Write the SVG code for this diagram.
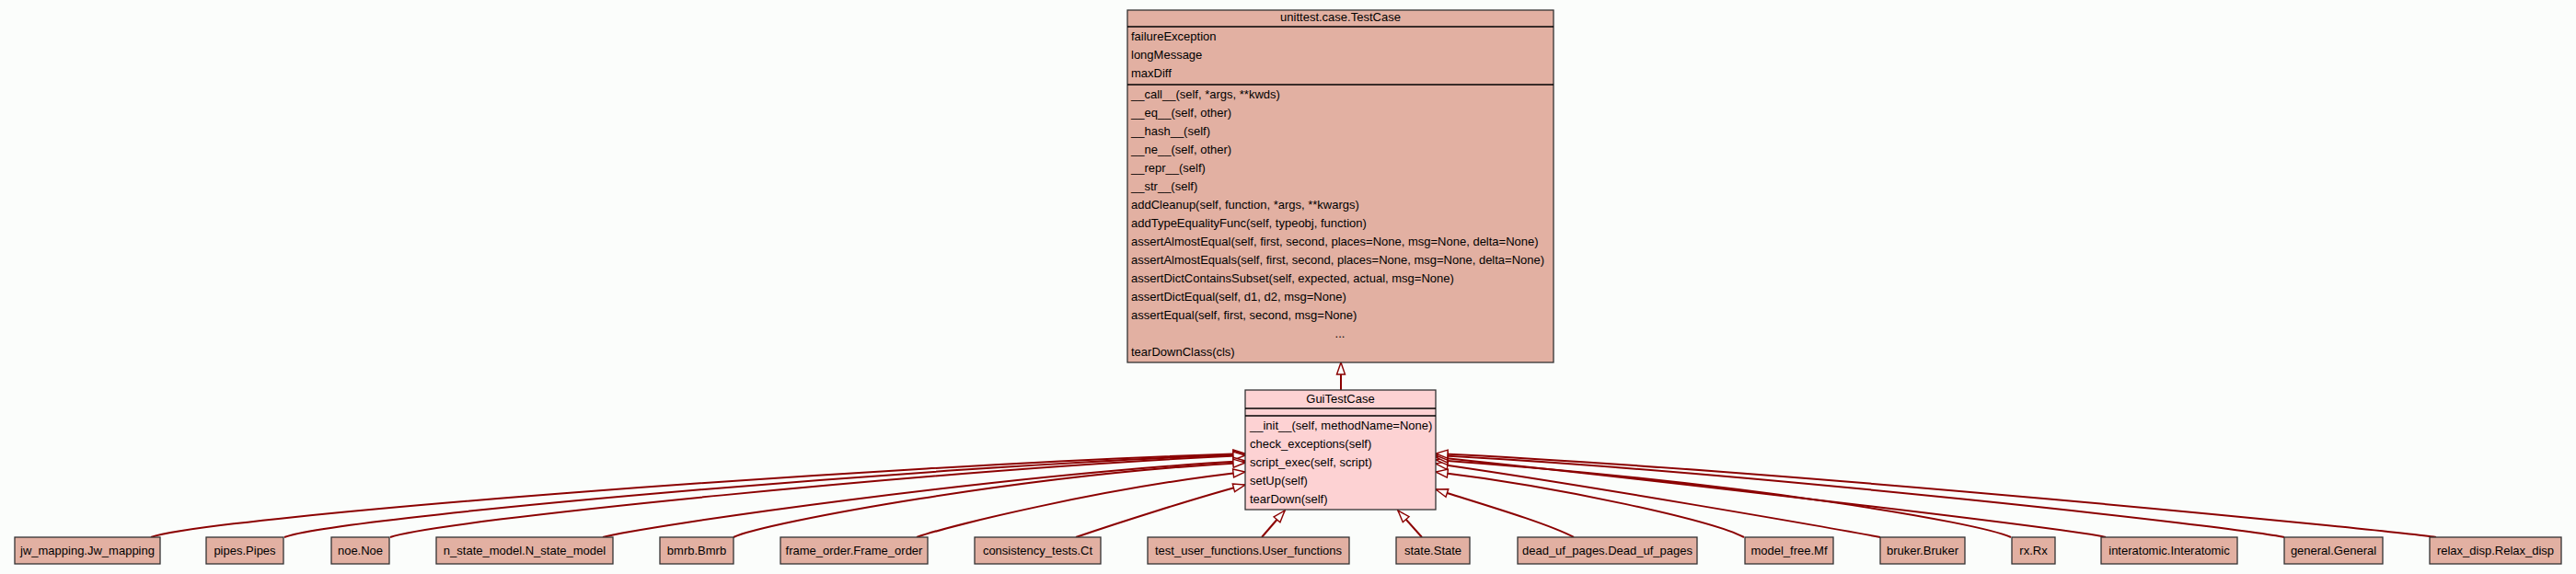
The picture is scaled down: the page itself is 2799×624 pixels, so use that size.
<svg xmlns="http://www.w3.org/2000/svg" width="2799" height="624" viewBox="0 0 2799 624">
<style>
text{font-family:"Liberation Sans",Arial,sans-serif;font-size:13px;fill:#000}
.c{text-anchor:middle}
.base{fill:#e2b0a2;stroke:#333;stroke-width:1.3}
.gui{fill:#fdd2d3;stroke:#333;stroke-width:1.3}
.sep{stroke:#000;stroke-width:1.6}
.e{fill:none;stroke:#8b0000;stroke-width:2}
</style>
<defs>
<marker id="ah" markerUnits="userSpaceOnUse" markerWidth="16" markerHeight="12" viewBox="-1 -6 16 12" refX="13" refY="0" orient="auto" overflow="visible">
<path d="M0,-4.5 L13,0 L0,4.5 Z" fill="#fbfdfb" stroke="#8b0000" stroke-width="1.4"/>
</marker>
</defs>
<rect width="2799" height="624" fill="#fbfdfb"/>
<g id="connectors">
<path class="e" marker-end="url(#ah)" d="M1457,424 L1457,394"/>
<path class="e" marker-end="url(#ah)" d="M164,584 C230,561 950,506 1353,493"/>
<path class="e" marker-end="url(#ah)" d="M309,584 C360,563 1000,507 1353,494"/>
<path class="e" marker-end="url(#ah)" d="M424,584 C470,566 1030,510 1353,495"/>
<path class="e" marker-end="url(#ah)" d="M655,584 C700,572 1080,517 1353,501"/>
<path class="e" marker-end="url(#ah)" d="M797,584 C830,568 1120,515 1353,503"/>
<path class="e" marker-end="url(#ah)" d="M996,584 C1030,572 1200,530 1353,513"/>
<path class="e" marker-end="url(#ah)" d="M1169,584 C1210,570 1300,541 1353,527"/>
<path class="e" marker-end="url(#ah)" d="M1371,584 L1396,555"/>
<path class="e" marker-end="url(#ah)" d="M1545,584 L1519,555"/>
<path class="e" marker-end="url(#ah)" d="M1710,584 C1680,568 1600,545 1560,532"/>
<path class="e" marker-end="url(#ah)" d="M1895,584 C1860,566 1700,530 1560,513"/>
<path class="e" marker-end="url(#ah)" d="M2043,584 C1990,574 1720,527 1560,504"/>
<path class="e" marker-end="url(#ah)" d="M2185,584 C2150,568 1900,525 1560,500"/>
<path class="e" marker-end="url(#ah)" d="M2288,584 C2250,575 1800,522 1560,497"/>
<path class="e" marker-end="url(#ah)" d="M2482,584 C2440,574 1900,513 1560,495"/>
<path class="e" marker-end="url(#ah)" d="M2647,584 C2600,577 1950,512 1560,493"/>
</g>
<g id="unittest.case.TestCase">
<rect class="base" x="1225" y="11" width="463" height="383"/>
<line class="sep" x1="1225" y1="29" x2="1688" y2="29"/>
<line class="sep" x1="1225" y1="92" x2="1688" y2="92"/>
<text class="c" x="1456.5" y="23">unittest.case.TestCase</text>
<text x="1229" y="44">failureException</text>
<text x="1229" y="64">longMessage</text>
<text x="1229" y="84">maxDiff</text>
<text x="1229" y="107">__call__(self, *args, **kwds)</text>
<text x="1229" y="127">__eq__(self, other)</text>
<text x="1229" y="147">__hash__(self)</text>
<text x="1229" y="167">__ne__(self, other)</text>
<text x="1229" y="187">__repr__(self)</text>
<text x="1229" y="207">__str__(self)</text>
<text x="1229" y="227">addCleanup(self, function, *args, **kwargs)</text>
<text x="1229" y="247">addTypeEqualityFunc(self, typeobj, function)</text>
<text x="1229" y="267">assertAlmostEqual(self, first, second, places=None, msg=None, delta=None)</text>
<text x="1229" y="287">assertAlmostEquals(self, first, second, places=None, msg=None, delta=None)</text>
<text x="1229" y="307">assertDictContainsSubset(self, expected, actual, msg=None)</text>
<text x="1229" y="327">assertDictEqual(self, d1, d2, msg=None)</text>
<text x="1229" y="347">assertEqual(self, first, second, msg=None)</text>
<text class="c" x="1456" y="367">...</text>
<text x="1229" y="387">tearDownClass(cls)</text>
</g>
<g id="GuiTestCase">
<rect class="gui" x="1353" y="424" width="207" height="130"/>
<line class="sep" x1="1353" y1="444" x2="1560" y2="444"/>
<line class="sep" x1="1353" y1="452" x2="1560" y2="452"/>
<text class="c" x="1456.5" y="438">GuiTestCase</text>
<text x="1358" y="467">__init__(self, methodName=None)</text>
<text x="1358" y="487">check_exceptions(self)</text>
<text x="1358" y="507">script_exec(self, script)</text>
<text x="1358" y="527">setUp(self)</text>
<text x="1358" y="547">tearDown(self)</text>
</g>
<g id="jw_mapping.Jw_mapping"><rect class="base" x="16" y="584" width="158" height="29"/><text class="c" x="95" y="603">jw_mapping.Jw_mapping</text></g>
<g id="pipes.Pipes"><rect class="base" x="224" y="584" width="84" height="29"/><text class="c" x="266" y="603">pipes.Pipes</text></g>
<g id="noe.Noe"><rect class="base" x="360" y="584" width="63" height="29"/><text class="c" x="391.5" y="603">noe.Noe</text></g>
<g id="n_state_model.N_state_model"><rect class="base" x="474" y="584" width="192" height="29"/><text class="c" x="570" y="603">n_state_model.N_state_model</text></g>
<g id="bmrb.Bmrb"><rect class="base" x="717" y="584" width="80" height="29"/><text class="c" x="757" y="603">bmrb.Bmrb</text></g>
<g id="frame_order.Frame_order"><rect class="base" x="848" y="584" width="160" height="29"/><text class="c" x="928" y="603">frame_order.Frame_order</text></g>
<g id="consistency_tests.Ct"><rect class="base" x="1059" y="584" width="137" height="29"/><text class="c" x="1127.5" y="603">consistency_tests.Ct</text></g>
<g id="test_user_functions.User_functions"><rect class="base" x="1247" y="584" width="219" height="29"/><text class="c" x="1356.5" y="603">test_user_functions.User_functions</text></g>
<g id="state.State"><rect class="base" x="1517" y="584" width="80" height="29"/><text class="c" x="1557" y="603">state.State</text></g>
<g id="dead_uf_pages.Dead_uf_pages"><rect class="base" x="1649" y="584" width="195" height="29"/><text class="c" x="1746.5" y="603">dead_uf_pages.Dead_uf_pages</text></g>
<g id="model_free.Mf"><rect class="base" x="1896" y="584" width="96" height="29"/><text class="c" x="1944" y="603">model_free.Mf</text></g>
<g id="bruker.Bruker"><rect class="base" x="2043" y="584" width="92" height="29"/><text class="c" x="2089" y="603">bruker.Bruker</text></g>
<g id="rx.Rx"><rect class="base" x="2186" y="584" width="47" height="29"/><text class="c" x="2209.5" y="603">rx.Rx</text></g>
<g id="interatomic.Interatomic"><rect class="base" x="2283" y="584" width="148" height="29"/><text class="c" x="2357" y="603">interatomic.Interatomic</text></g>
<g id="general.General"><rect class="base" x="2482" y="584" width="107" height="29"/><text class="c" x="2535.5" y="603">general.General</text></g>
<g id="relax_disp.Relax_disp"><rect class="base" x="2640" y="584" width="143" height="29"/><text class="c" x="2711.5" y="603">relax_disp.Relax_disp</text></g>
</svg>
